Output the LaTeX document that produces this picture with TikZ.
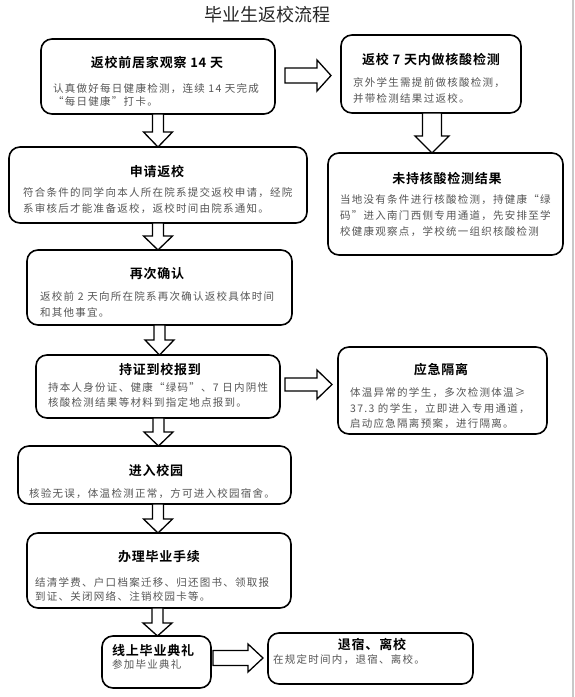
\documentclass[tikz,border=0pt]{standalone}
\usepackage{fontspec}
\setmainfont{Noto Sans CJK SC}
\newfontfamily\cjkmain{Noto Sans CJK SC}
\newfontfamily\cjkbody[LetterSpace=12]{Noto Sans CJK SC}
\newfontfamily\cjktitle[LetterSpace=6,UprightFont=* Bold]{Noto Sans CJK SC}
\usetikzlibrary{calc}
\definecolor{bodygray}{RGB}{85,85,85}
\definecolor{edgegray}{RGB}{200,200,200}
\tikzset{
  box/.style={draw=black, line width=1.6pt, rounded corners=11pt, fill=white,
    inner sep=0pt, outer sep=0pt},
  ttl/.style={font=\cjktitle\fontsize{13}{15}\selectfont, text=black, inner sep=0pt},
  body/.style={font=\cjkbody\fontsize{10.5}{#1}\selectfont, text=bodygray,
    align=left, inner sep=0pt, anchor=west},
  body/.default=15.5,
  blkarrow/.style={draw=black, line width=1.3pt, fill=white, line join=miter}
}
\newcommand\downblk[5]{%
  \draw[blkarrow] let \p1=#1, \p2=#2 in
    (\x1-#3,\y1) -- (\x1+#3,\y1) -- (\x1+#3,\y2+#5) -- (\x1+#4,\y2+#5) --
    (\x1,\y2) -- (\x1-#4,\y2+#5) -- (\x1-#3,\y2+#5) -- cycle;}
\newcommand\rightblk[5]{%
  \draw[blkarrow] let \p1=#1, \p2=#2 in
    (\x1,\y1+#3) -- (\x2-#5,\y1+#3) -- (\x2-#5,\y1+#4) -- (\x2,\y1) --
    (\x2-#5,\y1-#4) -- (\x2-#5,\y1-#3) -- (\x1,\y1-#3) -- cycle;}
\begin{document}
\begin{tikzpicture}[x=1pt,y=1pt]
\useasboundingbox (0,0) rectangle (575,-697);
\fill[white] (0,0) rectangle (575,-697);
\draw[edgegray, line width=1.2pt] (573,0) coordinate (e1) -- (573,-697) coordinate (e2);

\node[font=\cjkmain\fontsize{18}{20}\selectfont, text=black!85, inner sep=0pt] (title) at (267,-15) {毕业生返校流程};

% boxes
\node[box, minimum width=234pt, minimum height=75pt] (b1) at (158,-76.5) {};
\node[box, minimum width=180pt, minimum height=78pt] (b2) at (431,-74) {};
\node[box, minimum width=235pt, minimum height=102pt] (b3) at (445.5,-204) {};
\node[box, minimum width=298pt, minimum height=76pt] (b4) at (158,-185) {};
\node[box, minimum width=265pt, minimum height=75pt] (b5) at (159.5,-287.5) {};
\node[box, minimum width=244pt, minimum height=63pt] (b6) at (158,-386.5) {};
\node[box, minimum width=209pt, minimum height=87pt] (b7) at (442.5,-390.5) {};
\node[box, minimum width=273pt, minimum height=58pt] (b8) at (154.5,-475) {};
\node[box, minimum width=264pt, minimum height=75pt] (b9) at (159,-570.5) {};
\node[box, minimum width=109pt, minimum height=52pt] (b10) at (156.5,-662) {};
\node[box, minimum width=205pt, minimum height=51pt] (b11) at (370.5,-658.5) {};

% titles
\node[ttl] (h1) at (157,-63) {返校前居家观察 14 天};
\node[ttl] (h2) at (431,-59) {返校 7 天内做核酸检测};
\node[ttl] (h3) at (447,-178) {未持核酸检测结果};
\node[ttl] (h4) at (157,-171) {申请返校};
\node[ttl] (h5) at (157,-274) {再次确认};
\node[ttl] (h6) at (160,-370) {持证到校报到};
\node[ttl] (h7) at (441,-370) {应急隔离};
\node[ttl] (h8) at (156,-470) {进入校园};
\node[ttl] (h9) at (159,-557) {办理毕业手续};
\node[ttl, anchor=west] (h10) at (112,-650) {线上毕业典礼};
\node[ttl] (h11) at (372,-644) {退宿、离校};

% bodies
\node[body=13] (t1) at (53,-94.5) {认真做好每日健康检测，连续 14 天完成\\“每日健康”打卡。};
\node[body=16] (t2) at (353,-90) {京外学生需提前做核酸检测，\\并带检测结果过返校。};
\node[body=16] (t3) at (340,-216) {当地没有条件进行核酸检测，持健康“绿\\码”进入南门西侧专用通道，先安排至学\\校健康观察点，学校统一组织核酸检测};
\node[body=16] (t4) at (23,-201) {符合条件的同学向本人所在院系提交返校申请，经院\\系审核后才能准备返校，返校时间由院系通知。};
\node[body=16] (t5) at (40,-304) {返校前 2 天向所在院系再次确认返校具体时间\\和其他事宜。};
\node[body=15] (t6) at (48,-394.5) {持本人身份证、健康“绿码”、7 日内阴性\\核酸检测结果等材料到指定地点报到。};
\node[body=15.5] (t7) at (350,-408.5) {体温异常的学生，多次检测体温≥\\37.3 的学生，立即进入专用通道，\\启动应急隔离预案，进行隔离。};
\node[body] (t8) at (29,-494) {核验无误，体温检测正常，方可进入校园宿舍。};
\node[body=14] (t9) at (35,-589) {结清学费、户口档案迁移、归还图书、领取报\\到证、关闭网络、注销校园卡等。};
\node[body] (t10) at (112,-664) {参加毕业典礼};
\node[body] (t11) at (273,-660) {在规定时间内，退宿、离校。};

% block arrows
\downblk{(b1.south)}{(b4.north)}{5.5pt}{14.5pt}{15pt}
\downblk{(b4.south)}{(b5.north)}{5.5pt}{14.5pt}{14pt}
\downblk{(b5.south)}{(b6.north)}{5.5pt}{14.5pt}{15pt}
\downblk{($(b6.south)+(0.5,0)$)}{(b8.north)}{5.5pt}{14.5pt}{14pt}
\downblk{($(b8.south)+(3.5,0)$)}{(b9.north)}{5.5pt}{14.5pt}{14pt}
\downblk{($(b9.south)+(-1.5,0)$)}{(b10.north)}{5.5pt}{14.5pt}{13pt}
\downblk{($(b2.south)+(1,0)$)}{(b3.north)}{9.5pt}{17pt}{17pt}

\rightblk{($(b1.east)+(10,1)$)}{($(b2.west)+(-10,0)$)}{7.5pt}{15.5pt}{14pt}
\rightblk{($(b6.east)+(5,2)$)}{($(b7.west)+(-6,0)$)}{6.5pt}{14.5pt}{15pt}
\rightblk{($(b10.east)+(2,4)$)}{($(b11.west)+(-5,0)$)}{7.5pt}{14pt}{15pt}
\end{tikzpicture}
\end{document}
